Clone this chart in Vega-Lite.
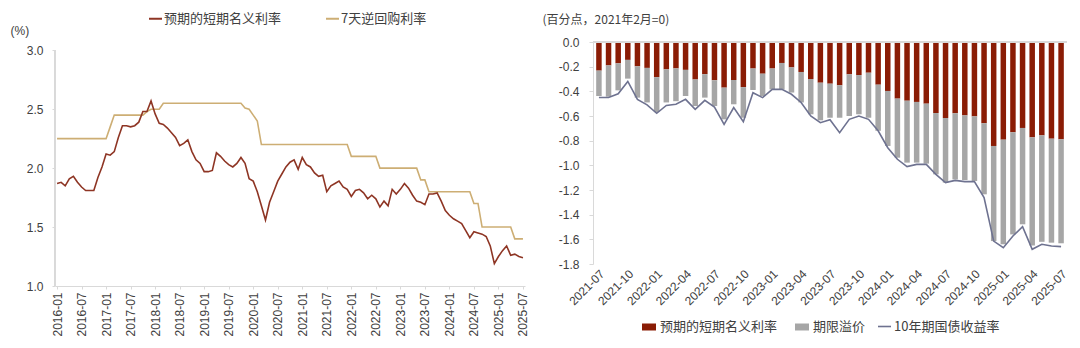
{
  "$schema": "https://vega.github.io/schema/vega-lite/v6.json",
  "background": "white",
  "padding": {"left": 10, "top": 11, "right": 5, "bottom": 0},
  "config": {
    "font": "Liberation Sans",
    "view": {"stroke": null},
    "axis": {"labelFont": "Liberation Sans", "labelFontSize": 12, "labelColor": "#404040", "domainColor": "#D9D9D9", "tickColor": "#D9D9D9", "grid": false, "labelOverlap": false, "titleFont": "Noto Sans CJK SC", "titleFontWeight": "normal", "titleFontSize": 12, "titleColor": "#404040"},
    "legend": {"labelFont": "Noto Sans CJK SC", "labelFontSize": 13, "labelColor": "#404040", "padding": 0},
    "concat": {"spacing": 13}
  },
  "resolve": {"scale": {"color": "independent", "stroke": "independent"}, "legend": {"color": "independent", "stroke": "independent"}},
  "hconcat": [
    {
      "width": 470,
      "height": 244,
      "data": {"values": [
        {"m":"2016-01","exp":1.87,"repo":2.25},{"m":"2016-02","exp":1.88,"repo":2.25},{"m":"2016-03","exp":1.85,"repo":2.25},{"m":"2016-04","exp":1.91,"repo":2.25},{"m":"2016-05","exp":1.93,"repo":2.25},{"m":"2016-06","exp":1.88,"repo":2.25},{"m":"2016-07","exp":1.84,"repo":2.25},{"m":"2016-08","exp":1.81,"repo":2.25},{"m":"2016-09","exp":1.81,"repo":2.25},{"m":"2016-10","exp":1.81,"repo":2.25},{"m":"2016-11","exp":1.92,"repo":2.25},{"m":"2016-12","exp":2.01,"repo":2.25},
        {"m":"2017-01","exp":2.12,"repo":2.25},{"m":"2017-02","exp":2.11,"repo":2.35},{"m":"2017-03","exp":2.14,"repo":2.45},{"m":"2017-04","exp":2.26,"repo":2.45},{"m":"2017-05","exp":2.36,"repo":2.45},{"m":"2017-06","exp":2.36,"repo":2.45},{"m":"2017-07","exp":2.35,"repo":2.45},{"m":"2017-08","exp":2.36,"repo":2.45},{"m":"2017-09","exp":2.39,"repo":2.45},{"m":"2017-10","exp":2.48,"repo":2.45},{"m":"2017-11","exp":2.48,"repo":2.48},{"m":"2017-12","exp":2.57,"repo":2.50},
        {"m":"2018-01","exp":2.46,"repo":2.50},{"m":"2018-02","exp":2.38,"repo":2.50},{"m":"2018-03","exp":2.37,"repo":2.55},{"m":"2018-04","exp":2.34,"repo":2.55},{"m":"2018-05","exp":2.30,"repo":2.55},{"m":"2018-06","exp":2.26,"repo":2.55},{"m":"2018-07","exp":2.19,"repo":2.55},{"m":"2018-08","exp":2.21,"repo":2.55},{"m":"2018-09","exp":2.24,"repo":2.55},{"m":"2018-10","exp":2.14,"repo":2.55},{"m":"2018-11","exp":2.07,"repo":2.55},{"m":"2018-12","exp":2.04,"repo":2.55},
        {"m":"2019-01","exp":1.97,"repo":2.55},{"m":"2019-02","exp":1.97,"repo":2.55},{"m":"2019-03","exp":1.98,"repo":2.55},{"m":"2019-04","exp":2.13,"repo":2.55},{"m":"2019-05","exp":2.10,"repo":2.55},{"m":"2019-06","exp":2.06,"repo":2.55},{"m":"2019-07","exp":2.03,"repo":2.55},{"m":"2019-08","exp":2.01,"repo":2.55},{"m":"2019-09","exp":2.04,"repo":2.55},{"m":"2019-10","exp":2.09,"repo":2.55},{"m":"2019-11","exp":2.04,"repo":2.51},{"m":"2019-12","exp":1.91,"repo":2.50},
        {"m":"2020-01","exp":1.89,"repo":2.45},{"m":"2020-02","exp":1.80,"repo":2.40},{"m":"2020-03","exp":1.68,"repo":2.20},{"m":"2020-04","exp":1.56,"repo":2.20},{"m":"2020-05","exp":1.71,"repo":2.20},{"m":"2020-06","exp":1.80,"repo":2.20},{"m":"2020-07","exp":1.89,"repo":2.20},{"m":"2020-08","exp":1.95,"repo":2.20},{"m":"2020-09","exp":2.01,"repo":2.20},{"m":"2020-10","exp":2.05,"repo":2.20},{"m":"2020-11","exp":2.07,"repo":2.20},{"m":"2020-12","exp":1.99,"repo":2.20},
        {"m":"2021-01","exp":2.09,"repo":2.20},{"m":"2021-02","exp":2.03,"repo":2.20},{"m":"2021-03","exp":2.01,"repo":2.20},{"m":"2021-04","exp":1.96,"repo":2.20},{"m":"2021-05","exp":1.93,"repo":2.20},{"m":"2021-06","exp":1.94,"repo":2.20},{"m":"2021-07","exp":1.80,"repo":2.20},{"m":"2021-08","exp":1.85,"repo":2.20},{"m":"2021-09","exp":1.87,"repo":2.20},{"m":"2021-10","exp":1.89,"repo":2.20},{"m":"2021-11","exp":1.84,"repo":2.20},{"m":"2021-12","exp":1.82,"repo":2.20},
        {"m":"2022-01","exp":1.76,"repo":2.10},{"m":"2022-02","exp":1.81,"repo":2.10},{"m":"2022-03","exp":1.82,"repo":2.10},{"m":"2022-04","exp":1.79,"repo":2.10},{"m":"2022-05","exp":1.74,"repo":2.10},{"m":"2022-06","exp":1.77,"repo":2.10},{"m":"2022-07","exp":1.74,"repo":2.10},{"m":"2022-08","exp":1.67,"repo":2.00},{"m":"2022-09","exp":1.72,"repo":2.00},{"m":"2022-10","exp":1.68,"repo":2.00},{"m":"2022-11","exp":1.82,"repo":2.00},{"m":"2022-12","exp":1.78,"repo":2.00},
        {"m":"2023-01","exp":1.82,"repo":2.00},{"m":"2023-02","exp":1.87,"repo":2.00},{"m":"2023-03","exp":1.83,"repo":2.00},{"m":"2023-04","exp":1.77,"repo":2.00},{"m":"2023-05","exp":1.72,"repo":2.00},{"m":"2023-06","exp":1.71,"repo":1.90},{"m":"2023-07","exp":1.69,"repo":1.90},{"m":"2023-08","exp":1.78,"repo":1.80},{"m":"2023-09","exp":1.78,"repo":1.80},{"m":"2023-10","exp":1.79,"repo":1.80},{"m":"2023-11","exp":1.72,"repo":1.80},{"m":"2023-12","exp":1.64,"repo":1.80},
        {"m":"2024-01","exp":1.60,"repo":1.80},{"m":"2024-02","exp":1.57,"repo":1.80},{"m":"2024-03","exp":1.55,"repo":1.80},{"m":"2024-04","exp":1.53,"repo":1.80},{"m":"2024-05","exp":1.47,"repo":1.80},{"m":"2024-06","exp":1.41,"repo":1.80},{"m":"2024-07","exp":1.46,"repo":1.70},{"m":"2024-08","exp":1.45,"repo":1.70},{"m":"2024-09","exp":1.44,"repo":1.50},{"m":"2024-10","exp":1.42,"repo":1.50},{"m":"2024-11","exp":1.34,"repo":1.50},{"m":"2024-12","exp":1.19,"repo":1.50},
        {"m":"2025-01","exp":1.25,"repo":1.50},{"m":"2025-02","exp":1.30,"repo":1.50},{"m":"2025-03","exp":1.34,"repo":1.50},{"m":"2025-04","exp":1.26,"repo":1.50},{"m":"2025-05","exp":1.27,"repo":1.40},{"m":"2025-06","exp":1.25,"repo":1.40},{"m":"2025-07","exp":1.24,"repo":1.40}
      ]},
      "layer": [
        {
          "mark": {"type": "rule", "color": "#D9D9D9"},
          "encoding": {"y": {"datum": 1, "type": "quantitative"}, "y2": {"datum": 3}, "x": {"value": 0}}
        },
        {
          "transform": [{"fold": ["repo", "exp"], "as": ["series", "value"]}],
          "mark": {"type": "line", "strokeWidth": 1.6},
          "encoding": {
            "x": {"field": "m", "type": "ordinal", "sort": null, "scale": {"type": "point", "padding": 0.5},
              "axis": {"title": null, "labelAngle": -90, "tickSize": 3, "labelPadding": 3,
                "values": ["2016-01","2016-07","2017-01","2017-07","2018-01","2018-07","2019-01","2019-07","2020-01","2020-07","2021-01","2021-07","2022-01","2022-07","2023-01","2023-07","2024-01","2024-07","2025-01","2025-07"]}},
            "y": {"field": "value", "type": "quantitative", "scale": {"domain": [1, 3.07], "nice": false, "zero": false},
              "axis": {"values": [1, 1.5, 2, 2.5, 3], "format": ".1f", "tickSize": 3, "labelPadding": 9, "labelOverlap": false, "domain": false,
                "title": "(%)", "titleFont": "Liberation Sans", "titleAngle": 0, "titleX": -45, "titleY": -12, "titleAlign": "left", "titleBaseline": "middle", "titleFontSize": 12}},
            "color": {"field": "series", "type": "nominal",
              "scale": {"domain": ["exp", "repo"], "range": ["#8E3524", "#CDAE74"]},
              "legend": {"orient": "none", "legendX": 93, "legendY": -31, "direction": "horizontal", "title": null,
                "symbolType": "stroke", "symbolSize": 169, "symbolStrokeWidth": 2, "labelOffset": 1, "columnPadding": 40,
                "labelExpr": "datum.label == 'exp' ? '预期的短期名义利率' : '7天逆回购利率'"}}
          }
        }
      ]
    },
    {
      "width": 474,
      "height": 222,
      "data": {"values": [
        {"m":"2021-07","exp":-0.232,"tp":-0.206,"yld":-0.45},{"m":"2021-08","exp":-0.19,"tp":-0.253,"yld":-0.45},{"m":"2021-09","exp":-0.173,"tp":-0.219,"yld":-0.42},{"m":"2021-10","exp":-0.145,"tp":-0.152,"yld":-0.32},{"m":"2021-11","exp":-0.197,"tp":-0.254,"yld":-0.465},{"m":"2021-12","exp":-0.21,"tp":-0.28,"yld":-0.51},
        {"m":"2022-01","exp":-0.285,"tp":-0.283,"yld":-0.578},{"m":"2022-02","exp":-0.222,"tp":-0.268,"yld":-0.514},{"m":"2022-03","exp":-0.214,"tp":-0.266,"yld":-0.505},{"m":"2022-04","exp":-0.226,"tp":-0.212,"yld":-0.465},{"m":"2022-05","exp":-0.304,"tp":-0.215,"yld":-0.546},{"m":"2022-06","exp":-0.261,"tp":-0.19,"yld":-0.473},{"m":"2022-07","exp":-0.31,"tp":-0.209,"yld":-0.527},{"m":"2022-08","exp":-0.37,"tp":-0.257,"yld":-0.668},{"m":"2022-09","exp":-0.308,"tp":-0.197,"yld":-0.532},{"m":"2022-10","exp":-0.366,"tp":-0.248,"yld":-0.646},{"m":"2022-11","exp":-0.215,"tp":-0.174,"yld":-0.411},{"m":"2022-12","exp":-0.257,"tp":-0.181,"yld":-0.451},
        {"m":"2023-01","exp":-0.215,"tp":-0.169,"yld":-0.384},{"m":"2023-02","exp":-0.17,"tp":-0.214,"yld":-0.384},{"m":"2023-03","exp":-0.206,"tp":-0.204,"yld":-0.424},{"m":"2023-04","exp":-0.243,"tp":-0.247,"yld":-0.49},{"m":"2023-05","exp":-0.30,"tp":-0.286,"yld":-0.60},{"m":"2023-06","exp":-0.33,"tp":-0.305,"yld":-0.654},{"m":"2023-07","exp":-0.338,"tp":-0.276,"yld":-0.63},{"m":"2023-08","exp":-0.351,"tp":-0.263,"yld":-0.735},{"m":"2023-09","exp":-0.262,"tp":-0.338,"yld":-0.627},{"m":"2023-10","exp":-0.268,"tp":-0.318,"yld":-0.60},{"m":"2023-11","exp":-0.249,"tp":-0.365,"yld":-0.627},{"m":"2023-12","exp":-0.346,"tp":-0.374,"yld":-0.72},
        {"m":"2024-01","exp":-0.397,"tp":-0.446,"yld":-0.857},{"m":"2024-02","exp":-0.459,"tp":-0.479,"yld":-0.951},{"m":"2024-03","exp":-0.476,"tp":-0.502,"yld":-1.01},{"m":"2024-04","exp":-0.486,"tp":-0.492,"yld":-0.992},{"m":"2024-05","exp":-0.50,"tp":-0.486,"yld":-0.992},{"m":"2024-06","exp":-0.576,"tp":-0.497,"yld":-1.073},{"m":"2024-07","exp":-0.616,"tp":-0.524,"yld":-1.14},{"m":"2024-08","exp":-0.578,"tp":-0.536,"yld":-1.122},{"m":"2024-09","exp":-0.595,"tp":-0.524,"yld":-1.132},{"m":"2024-10","exp":-0.603,"tp":-0.524,"yld":-1.132},{"m":"2024-11","exp":-0.659,"tp":-0.576,"yld":-1.262},{"m":"2024-12","exp":-0.843,"tp":-0.771,"yld":-1.614},
        {"m":"2025-01","exp":-0.792,"tp":-0.848,"yld":-1.668},{"m":"2025-02","exp":-0.732,"tp":-0.828,"yld":-1.573},{"m":"2025-03","exp":-0.697,"tp":-0.781,"yld":-1.497},{"m":"2025-04","exp":-0.773,"tp":-0.877,"yld":-1.681},{"m":"2025-05","exp":-0.757,"tp":-0.863,"yld":-1.64},{"m":"2025-06","exp":-0.784,"tp":-0.843,"yld":-1.654},{"m":"2025-07","exp":-0.789,"tp":-0.843,"yld":-1.659}
      ]},
      "encoding": {
        "x": {"field": "m", "type": "ordinal", "sort": null,
          "scale": {"type": "band", "paddingInner": 0.43, "paddingOuter": 0.33},
          "axis": {"title": null, "labelAngle": -45, "domain": false, "ticks": false, "labelPadding": 4,
            "values": ["2021-07","2021-10","2022-01","2022-04","2022-07","2022-10","2023-01","2023-04","2023-07","2023-10","2024-01","2024-04","2024-07","2024-10","2025-01","2025-04","2025-07"]}}
      },
      "layer": [
        {
          "transform": [{"fold": ["exp", "tp"], "as": ["series", "value"]}],
          "mark": {"type": "bar"},
          "encoding": {
            "y": {"field": "value", "type": "quantitative", "stack": "zero",
              "scale": {"domain": [-1.8, 0], "nice": false},
              "axis": {"values": [-1.8, -1.6, -1.4, -1.2, -1, -0.8, -0.6, -0.4, -0.2, 0], "tickSize": 4, "labelPadding": 10, "labelOverlap": false,
                "labelExpr": "replace(format(datum.value, '.1f'), '\u2212', '-')",
                "title": "(百分点，2021年2月=0)", "titleAngle": 0, "titleX": -51, "titleY": -23, "titleAlign": "left", "titleBaseline": "middle", "titleFontSize": 12}},
            "color": {"field": "series", "type": "nominal",
              "scale": {"domain": ["exp", "tp"], "range": ["#8A1C05", "#A6A6A6"]},
              "legend": {"orient": "none", "legendX": 48, "legendY": 277, "direction": "horizontal", "title": null,
                "symbolType": "M-1,-0.5H1V0.5H-1Z", "symbolSize": 196, "labelOffset": 3, "columnPadding": 16,
                "labelExpr": "datum.label == 'exp' ? '预期的短期名义利率' : '期限溢价'"}},
            "order": {"field": "series", "sort": "ascending"}
          }
        },
        {
          "mark": {"type": "rule", "color": "#D9D9D9"},
          "encoding": {"y": {"datum": 0, "type": "quantitative",
              "axis": {"values": [-1.8, -1.6, -1.4, -1.2, -1, -0.8, -0.6, -0.4, -0.2, 0], "tickSize": 4, "labelPadding": 10, "labelOverlap": false,
                "labelExpr": "replace(format(datum.value, '.1f'), '\u2212', '-')",
                "title": "(百分点，2021年2月=0)", "titleAngle": 0, "titleX": -51, "titleY": -23, "titleAlign": "left", "titleBaseline": "middle", "titleFontSize": 12}},
            "x": {"value": 0}, "x2": {"value": 474}}
        },
        {
          "mark": {"type": "line", "strokeWidth": 1.6},
          "encoding": {
            "y": {"field": "yld", "type": "quantitative",
              "axis": {"values": [-1.8, -1.6, -1.4, -1.2, -1, -0.8, -0.6, -0.4, -0.2, 0], "tickSize": 4, "labelPadding": 10, "labelOverlap": false,
                "labelExpr": "replace(format(datum.value, '.1f'), '\u2212', '-')",
                "title": "(百分点，2021年2月=0)", "titleAngle": 0, "titleX": -51, "titleY": -23, "titleAlign": "left", "titleBaseline": "middle", "titleFontSize": 12}},
            "stroke": {"datum": "10年期国债收益率", "type": "nominal",
              "scale": {"range": ["#6E7290"]},
              "legend": {"orient": "none", "legendX": 284, "legendY": 277, "direction": "horizontal", "title": null,
                "symbolType": "stroke", "symbolSize": 169, "symbolStrokeWidth": 1.6, "labelOffset": 2}}
          }
        }
      ]
    }
  ]
}
